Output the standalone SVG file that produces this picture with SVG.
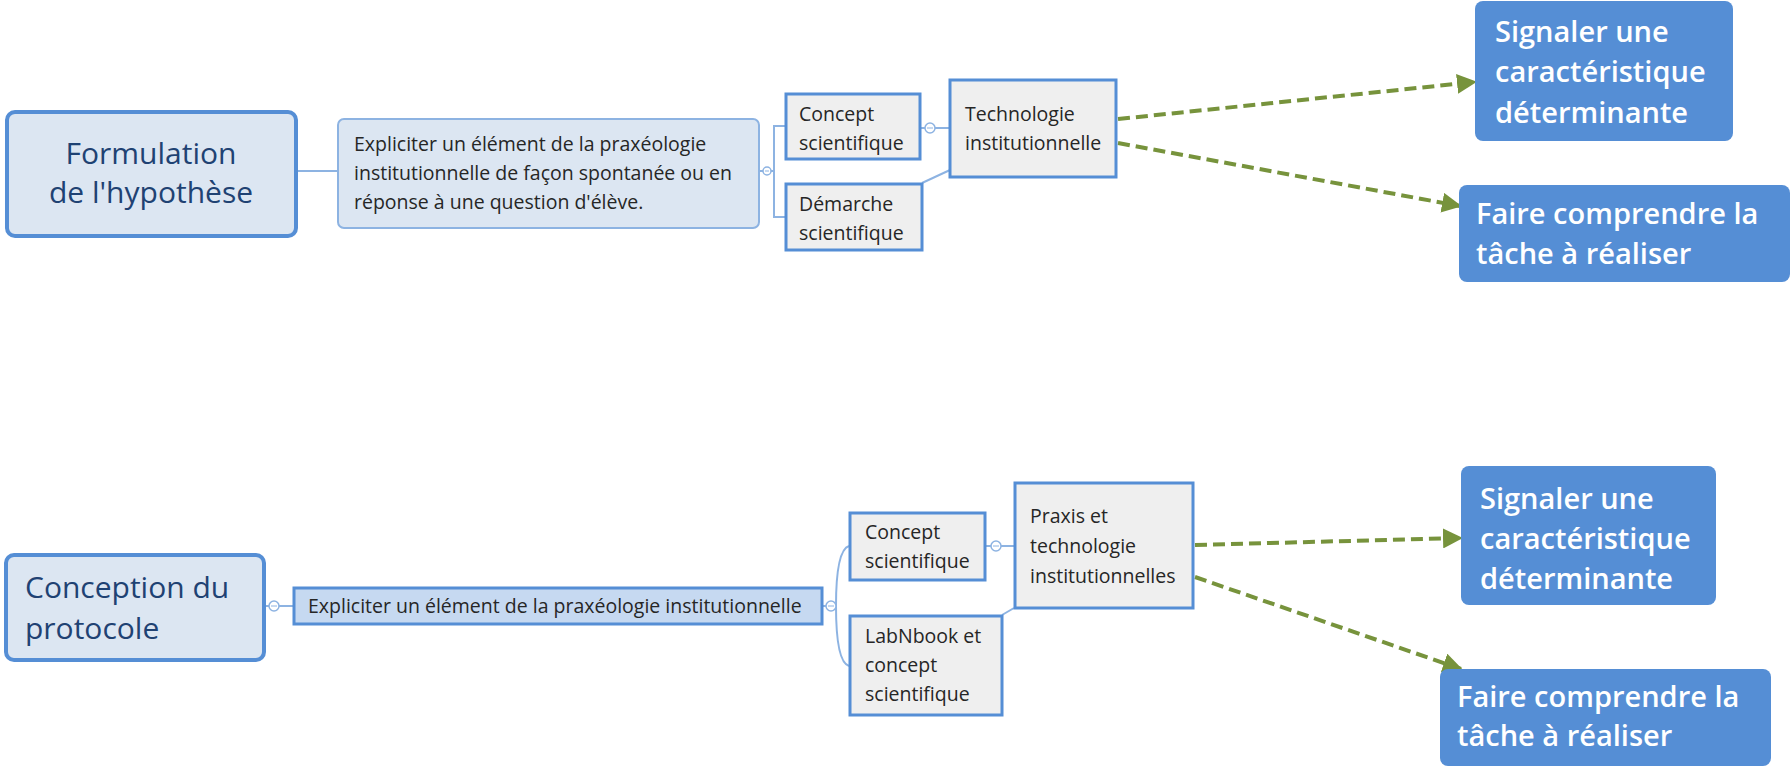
<svg xmlns="http://www.w3.org/2000/svg" width="1790" height="766" viewBox="0 0 1790 766">
<style>
.root{fill:#dce6f2;stroke:#558ed5;stroke-width:4}
.sub{fill:#dce6f2;stroke:#8db3e2;stroke-width:2}
.sub2{fill:#c6d9f1;stroke:#558ed5;stroke-width:3}
.leaf{fill:#efefef;stroke:#558ed5;stroke-width:3}
.act{fill:#558ed5;stroke:none}
.rt{font-family:"Open Sans","Liberation Sans",sans-serif;font-size:30px;font-weight:500;fill:#1f4273}
.t{font-family:"Open Sans","Liberation Sans",sans-serif;font-size:19.5px;fill:#262626}
.w{font-family:"Open Sans","Liberation Sans",sans-serif;font-size:29px;font-weight:600;fill:#ffffff}
.ln{fill:none;stroke:#8db3e2;stroke-width:2}
.dash{fill:none;stroke:#77933c;stroke-width:4;stroke-dasharray:12 6}
.knob{fill:#ffffff;stroke:#8db3e2;stroke-width:1.5}
</style>
<defs>
<marker id="ah" viewBox="0 0 10 10" refX="9" refY="5" markerWidth="5" markerHeight="5" markerUnits="strokeWidth" orient="auto">
<path d="M0,0 L10,5 L0,10 z" fill="#77933c"/>
</marker>
</defs>

<g id="connectors">
<line class="ln" x1="297" y1="171" x2="338" y2="171"/>
<line class="ln" x1="759" y1="171" x2="774" y2="171"/>
<path class="ln" d="M785,126 H774 V217 H785"/>
<line class="ln" x1="920" y1="128" x2="950" y2="128"/>
<line class="ln" x1="922" y1="183" x2="950" y2="170"/>
<path class="dash" marker-end="url(#ah)" d="M1118,119 L1475,82"/>
<path class="dash" marker-end="url(#ah)" d="M1118,143 L1460,206"/>

<line class="ln" x1="265" y1="606" x2="293" y2="606"/>
<line class="ln" x1="822" y1="606" x2="836" y2="606"/>
<path class="ln" d="M849,546 Q836,550 836,606 Q836,662 849,666"/>
<line class="ln" x1="985" y1="546" x2="1014" y2="546"/>
<line class="ln" x1="1002" y1="615" x2="1014" y2="608"/>
<path class="dash" marker-end="url(#ah)" d="M1195,545 L1461,538"/>
<path class="dash" marker-end="url(#ah)" d="M1195,577 L1461,669"/>

<circle class="knob" cx="767" cy="171" r="4"/>
<line x1="765" y1="171" x2="769" y2="171" stroke="#8db3e2" stroke-width="1"/>
<circle class="knob" cx="930" cy="128" r="5"/>
<line x1="927" y1="128" x2="933" y2="128" stroke="#8db3e2" stroke-width="1"/>
<circle class="knob" cx="274" cy="606" r="5"/>
<line x1="271" y1="606" x2="277" y2="606" stroke="#8db3e2" stroke-width="1"/>
<circle class="knob" cx="831" cy="606" r="5"/>
<line x1="828" y1="606" x2="834" y2="606" stroke="#8db3e2" stroke-width="1"/>
<circle class="knob" cx="996" cy="546" r="5"/>
<line x1="993" y1="546" x2="999" y2="546" stroke="#8db3e2" stroke-width="1"/>
</g>

<g id="formulation">
<rect class="root" x="7" y="112" width="289" height="124" rx="8"/>
<text class="rt" text-anchor="middle"><tspan x="151" y="164">Formulation</tspan><tspan x="151" y="203">de l'hypothèse</tspan></text>
</g>
<g id="expliciter1">
<rect class="sub" x="338" y="119" width="421" height="109" rx="6"/>
<text class="t"><tspan x="354" y="151">Expliciter un élément de la praxéologie</tspan><tspan x="354" y="180">institutionnelle de façon spontanée ou en</tspan><tspan x="354" y="209">réponse à une question d'élève.</tspan></text>
</g>
<g id="concept1">
<rect class="leaf" x="786" y="94" width="134" height="65"/>
<text class="t"><tspan x="799" y="121">Concept</tspan><tspan x="799" y="150">scientifique</tspan></text>
</g>
<g id="demarche1">
<rect class="leaf" x="786" y="184" width="136" height="66"/>
<text class="t"><tspan x="799" y="211">Démarche</tspan><tspan x="799" y="240">scientifique</tspan></text>
</g>
<g id="technologie1">
<rect class="leaf" x="950" y="80" width="166" height="97"/>
<text class="t"><tspan x="965" y="121">Technologie</tspan><tspan x="965" y="150">institutionnelle</tspan></text>
</g>
<g id="signaler1">
<rect class="act" x="1475" y="1" width="258" height="140" rx="8"/>
<text class="w"><tspan x="1495" y="42">Signaler une</tspan><tspan x="1495" y="82">caractéristique</tspan><tspan x="1495" y="123">déterminante</tspan></text>
</g>
<g id="faire1">
<rect class="act" x="1459" y="185" width="331" height="97" rx="8"/>
<text class="w"><tspan x="1476" y="224">Faire comprendre la</tspan><tspan x="1476" y="264">tâche à réaliser</tspan></text>
</g>

<g id="conception">
<rect class="root" x="6" y="555" width="258" height="105" rx="8"/>
<text class="rt"><tspan x="25" y="598">Conception du</tspan><tspan x="25" y="639">protocole</tspan></text>
</g>
<g id="expliciter2">
<rect class="sub2" x="294" y="588" width="528" height="36"/>
<text class="t" x="308" y="613">Expliciter un élément de la praxéologie institutionnelle</text>
</g>
<g id="concept2">
<rect class="leaf" x="850" y="513" width="135" height="67"/>
<text class="t"><tspan x="865" y="539">Concept</tspan><tspan x="865" y="568">scientifique</tspan></text>
</g>
<g id="labnbook">
<rect class="leaf" x="850" y="616" width="152" height="99"/>
<text class="t"><tspan x="865" y="643">LabNbook et</tspan><tspan x="865" y="672">concept</tspan><tspan x="865" y="701">scientifique</tspan></text>
</g>
<g id="praxis">
<rect class="leaf" x="1015" y="483" width="178" height="125"/>
<text class="t"><tspan x="1030" y="523">Praxis et</tspan><tspan x="1030" y="553">technologie</tspan><tspan x="1030" y="583">institutionnelles</tspan></text>
</g>
<g id="signaler2">
<rect class="act" x="1461" y="466" width="255" height="139" rx="8"/>
<text class="w"><tspan x="1480" y="509">Signaler une</tspan><tspan x="1480" y="549">caractéristique</tspan><tspan x="1480" y="589">déterminante</tspan></text>
</g>
<g id="faire2">
<rect class="act" x="1440" y="669" width="331" height="97" rx="8"/>
<text class="w"><tspan x="1457" y="707">Faire comprendre la</tspan><tspan x="1457" y="746">tâche à réaliser</tspan></text>
</g>
</svg>
